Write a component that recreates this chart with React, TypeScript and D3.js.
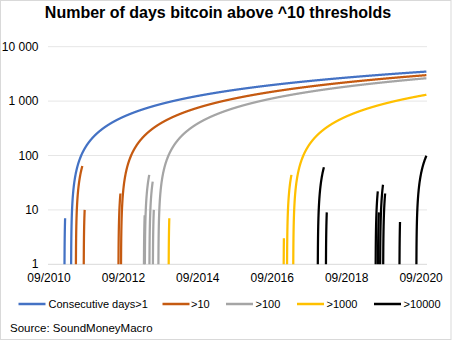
import React from "react";
import * as d3 from "d3";

// ---- data (runs of consecutive days above each threshold) ----
const seriesNames = ["Consecutive days>1", ">10", ">100", ">1000", ">10000"];
const seriesColors = ["#4472C4", "#C55A11", "#A5A5A5", "#FFC000", "#000000"];

const runsAbove1: [string, string][] = [
  ["2011-02-10", "2011-02-16"],
  ["2011-04-16", "2020-11-02"],
];
const runsAbove10: [string, string][] = [
  ["2011-06-02", "2011-08-04"],
  ["2011-08-18", "2011-08-27"],
  ["2012-07-24", "2012-08-12"],
  ["2012-08-18", "2020-11-02"],
];
const runsAbove100: [string, string][] = [
  ["2013-03-31", "2013-04-07"],
  ["2013-04-09", "2013-05-22"],
  ["2013-05-24", "2013-06-25"],
  ["2013-06-27", "2013-07-06"],
  ["2013-08-20", "2020-11-02"],
];
const runsAbove1000: [string, string][] = [
  ["2013-11-29", "2013-12-05"],
  ["2017-01-01", "2017-01-03"],
  ["2017-02-03", "2017-03-18"],
  ["2017-04-05", "2020-11-02"],
];
const runsAbove10000: [string, string][] = [
  ["2017-12-02", "2018-01-31"],
  ["2018-02-20", "2018-02-28"],
  ["2019-06-23", "2019-07-14"],
  ["2019-07-16", "2019-07-24"],
  ["2019-08-06", "2019-09-03"],
  ["2019-09-05", "2019-09-24"],
  ["2020-02-12", "2020-02-17"],
  ["2020-07-27", "2020-11-02"],
];

const xTickDates = ["2010-09-01", "2012-09-01", "2014-09-01", "2016-09-01", "2018-09-01", "2020-09-01"];
const xTickLabels = ["09/2010", "09/2012", "09/2014", "09/2016", "09/2018", "09/2020"];
const yTickValues = [1, 10, 100, 1000, 10000];
const yTickLabels = ["1", "10", "100", "1 000", "10 000"];
const xDomain = ["2010-09-01", "2020-11-08"];

const titleText = "Number of days bitcoin above ^10 thresholds";
const sourceText = "Source: SoundMoneyMacro";

// ---------------------------------------------------------------------------
const W = 455;
const H = 341;
const FONT = "'Liberation Sans', Arial, sans-serif";
const parse = d3.utcParse("%Y-%m-%d");

const allRuns = [runsAbove1, runsAbove10, runsAbove100, runsAbove1000, runsAbove10000];

export default function App() {
  const x = d3
    .scaleUtc()
    .domain(xDomain.map((d) => parse(d) as Date))
    .range([48, 427]);
  const y = d3.scaleLog().domain([1, 10000]).range([264.3, 46.7]);

  const line = d3
    .line<{ date: Date; v: number }>()
    .x((d) => x(d.date))
    .y((d) => y(d.v));

  const paths = allRuns.map((runs) =>
    runs.map(([s, e]) => {
      const start = parse(s) as Date;
      const end = d3.utcDay.offset(parse(e) as Date, 1);
      const days = d3.utcDay.range(start, end);
      return line(days.map((date, i) => ({ date, v: i + 1 }))) || "";
    })
  );

  const legendItems = [
    { lx: 18.5, tx: 48.5 },
    { lx: 162.5, tx: 191 },
    { lx: 226, tx: 255.5 },
    { lx: 297, tx: 326.5 },
    { lx: 374, tx: 403.5 },
  ];

  return (
    <svg
      width={W}
      height={H}
      style={{ position: "absolute", left: 0, top: 0, background: "#fff" }}
      fontFamily={FONT}
    >
      <rect x={0.5} y={0.5} width={450.5} height={339} fill="#fff" stroke="#d9d9d9" />
      <text x={218} y={18} textAnchor="middle" fontSize={16} fontWeight="bold" fill="#000">
        {titleText}
      </text>

      {/* grid */}
      {yTickValues.map((v, i) => (
        <g key={v}>
          <line x1={48} x2={427} y1={y(v)} y2={y(v)} stroke={i === 0 ? "#d9d9d9" : "#e6e6e6"} strokeWidth={1} />
          <text x={38.5} y={y(v) + 4} textAnchor="end" fontSize={12} fill="#000">
            {yTickLabels[i]}
          </text>
        </g>
      ))}

      {xTickDates.map((d, i) => (
        <text key={d} x={x(parse(d) as Date) + 1} y={282} textAnchor="middle" fontSize={12} fill="#000">
          {xTickLabels[i]}
        </text>
      ))}

      <defs>
        <clipPath id="plot">
          <rect x={46} y={40} width={384} height={226} />
        </clipPath>
      </defs>
      <g clipPath="url(#plot)">
        {paths.map((ps, si) =>
          ps.map((p, j) => (
            <path
              key={si + "-" + j}
              d={p}
              fill="none"
              stroke={seriesColors[si]}
              strokeWidth={2.25}
              strokeLinejoin="round"
            />
          ))
        )}
      </g>

      {/* legend */}
      {seriesNames.map((n, i) => (
        <g key={n}>
          <line
            x1={legendItems[i].lx}
            x2={legendItems[i].lx + 27}
            y1={304}
            y2={304}
            stroke={seriesColors[i]}
            strokeWidth={2.5}
          />
          <text x={legendItems[i].tx} y={308} fontSize={11} fill="#000">
            {n}
          </text>
        </g>
      ))}

      <text x={10} y={332} fontSize={11.5} fill="#000">
        {sourceText}
      </text>
    </svg>
  );
}
